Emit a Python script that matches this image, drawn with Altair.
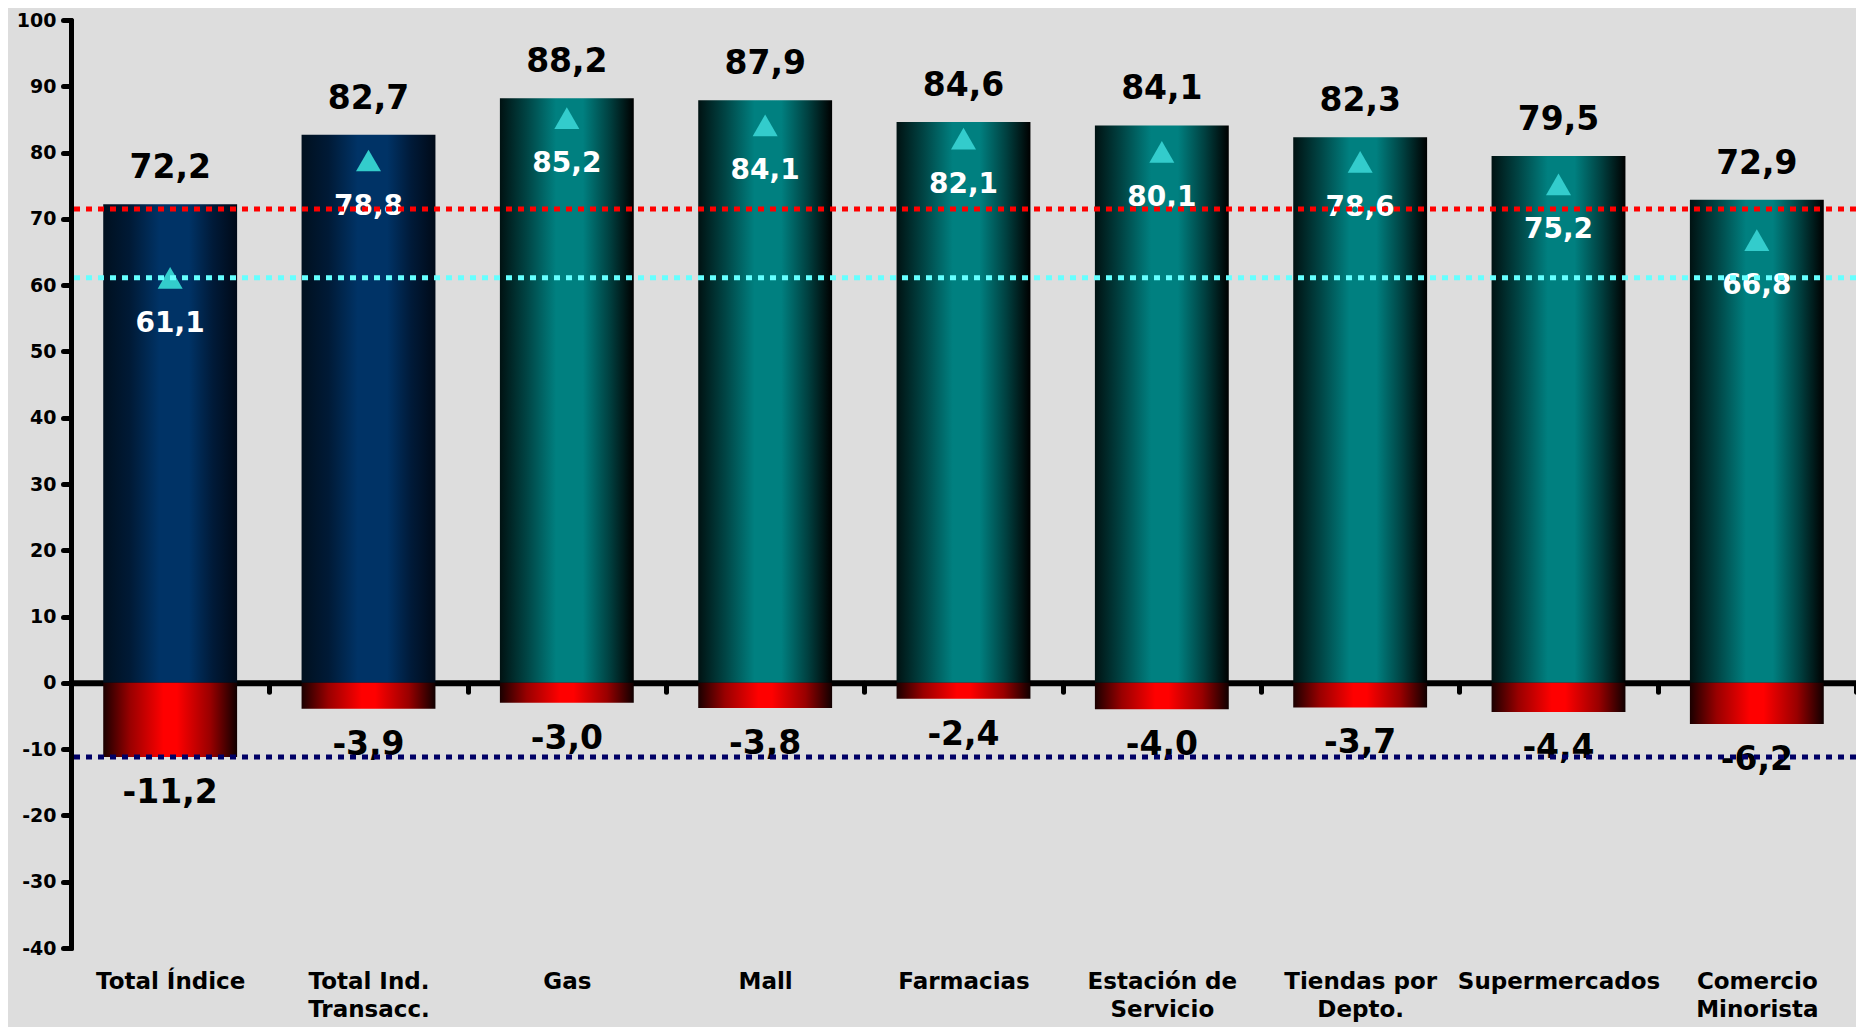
import altair as alt
import pandas as pd

categories = ["Total Índice", "Total Ind.\nTransacc.", "Gas", "Mall", "Farmacias",
              "Estación de\nServicio", "Tiendas por\nDepto.", "Supermercados", "Comercio\nMinorista"]
groups = ["total", "total", "sector", "sector", "sector", "sector", "sector", "sector", "sector"]
bar_values = [72.2, 82.7, 88.2, 87.9, 84.6, 84.1, 82.3, 79.5, 72.9]
marker_values = [61.1, 78.8, 85.2, 84.1, 82.1, 80.1, 78.6, 75.2, 66.8]
neg_values = [-11.2, -3.9, -3.0, -3.8, -2.4, -4.0, -3.7, -4.4, -6.2]
ref_names = ["rojo", "celeste", "azul"]
ref_values = [71.5, 61.1, -11.2]
ref_colors = ["#FF0000", "#66FFFF", "#000066"]
y_ticks = list(range(-40, 101, 10))


def fmt(v):
    return f"{v:.1f}".replace(".", ",")


df = pd.DataFrame({
    "cat": categories,
    "grp": groups,
    "top": bar_values,
    "mk": marker_values,
    "neg": neg_values,
    "top_lbl": [fmt(v) for v in bar_values],
    "mk_lbl": [fmt(v) for v in marker_values],
    "neg_lbl": [fmt(v) for v in neg_values],
})
refs = pd.DataFrame({"name": ref_names, "v": ref_values})

W, H = 1785, 928
zero_px = H * 100 / 140
FONT = "DejaVu Sans"
BAR_FRAC = 0.675

yscale = alt.Scale(domain=[-40, 100], nice=False, zero=False)
yaxis = alt.Axis(values=y_ticks, title=None, domainColor="black", domainWidth=5,
                 domainCap="round", tickColor="black", tickSize=8, tickWidth=5,
                 tickCap="round", labelFont=FONT, labelFontWeight="bold",
                 labelFontSize=19, labelColor="black", labelPadding=7, grid=False,
                 labelExpr="toString(datum.value)")

xenc = alt.X("cat:N", sort=categories, title=None,
             scale=alt.Scale(paddingInner=0, paddingOuter=0),
             axis=alt.Axis(orient="bottom", offset=-(H - zero_px), domainColor="black",
                           domainWidth=6, tickColor="black", tickSize=9, tickWidth=5,
                           tickCap="round", tickBand="extent", labelAngle=0,
                           labelFont=FONT, labelFontWeight="bold", labelFontSize=23,
                           labelColor="black", labelPadding=279, labelLineHeight=28,
                           labelAlign="center", labelBaseline="top", labelLimit=0,
                           labelExpr="split(datum.label, '\\n')", grid=False))

base = alt.Chart(df).encode(x=xenc)


def grad(stops):
    return alt.Gradient(gradient="linear", x1=0, x2=1, y1=0, y2=0,
                        stops=[alt.GradientStop(color=c, offset=o) for o, c in stops])


navy_grad = grad([(0, "#00101f"), (0.2, "#001a36"), (0.42, "#003366"),
                  (0.64, "#003366"), (0.82, "#001a38"), (1, "#000a18")])
teal_grad = grad([(0, "#001212"), (0.2, "#004444"), (0.42, "#008080"),
                  (0.62, "#008080"), (0.82, "#004040"), (1, "#000000")])
red_grad = grad([(0, "#1a0000"), (0.2, "#990000"), (0.45, "#FF0000"),
                 (0.55, "#FF0000"), (0.8, "#990000"), (1, "#100000")])

navy_bars = base.transform_filter(alt.datum.grp == "total").mark_bar(
    color=navy_grad, width=alt.RelativeBandSize(BAR_FRAC)
).encode(y=alt.Y("top:Q", scale=yscale, axis=yaxis))

teal_bars = base.transform_filter(alt.datum.grp == "sector").mark_bar(
    color=teal_grad, width=alt.RelativeBandSize(BAR_FRAC)
).encode(y=alt.Y("top:Q", scale=yscale, axis=yaxis))

red_bars = base.mark_bar(
    color=red_grad, width=alt.RelativeBandSize(BAR_FRAC)
).encode(y=alt.Y("neg:Q", scale=yscale, axis=yaxis))

markers = base.mark_point(shape="triangle-up", filled=True, color="#33CCCC",
                          size=625, opacity=1).encode(
    y=alt.Y("mk:Q", scale=yscale, axis=yaxis))

top_text = base.mark_text(dy=-36, baseline="middle", fontSize=33, fontWeight="bold",
                          font=FONT, color="black").encode(
    y=alt.Y("top:Q", scale=yscale, axis=yaxis), text="top_lbl:N")

mk_text = base.mark_text(dy=46, baseline="middle", fontSize=28, fontWeight="bold",
                         font=FONT, color="white").encode(
    y=alt.Y("mk:Q", scale=yscale, axis=yaxis), text="mk_lbl:N")

neg_text = base.mark_text(dy=36, baseline="middle", fontSize=33, fontWeight="bold",
                          font=FONT, color="black").encode(
    y=alt.Y("neg:Q", scale=yscale, axis=yaxis), text="neg_lbl:N")

rules = alt.Chart(refs).mark_rule(strokeWidth=5, strokeDash=[6, 6]).encode(
    y=alt.Y("v:Q", scale=yscale, axis=yaxis),
    color=alt.Color("name:N", scale=alt.Scale(domain=ref_names, range=ref_colors),
                    legend=None))

chart = alt.layer(navy_bars, teal_bars, red_bars, markers, top_text, mk_text,
                  neg_text, rules).properties(
    width=W, height=H,
    padding={"left": 63, "top": 12, "right": 0, "bottom": 79},
    autosize=alt.AutoSizeParams(type="none"),
).configure(background="#DDDDDD").configure_view(strokeWidth=0)

chart.save("out.html", embed_options={"renderer": "svg", "actions": False})
